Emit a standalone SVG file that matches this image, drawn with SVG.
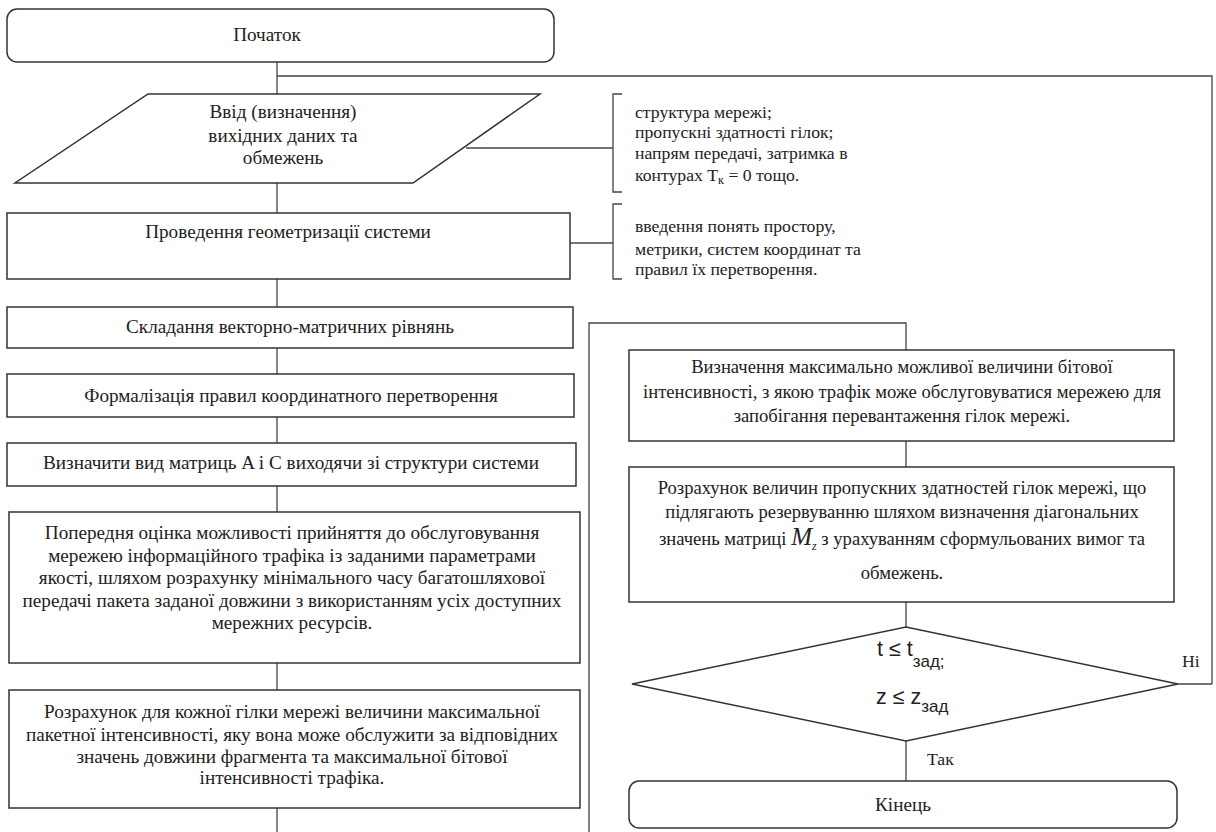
<svg xmlns="http://www.w3.org/2000/svg" width="1216" height="832" viewBox="0 0 1216 832">
<style>
.box{fill:#fff;stroke:#333;stroke-width:1.5}
.ln{fill:none;stroke:#444;stroke-width:1.3}
text{font-family:"Liberation Serif","Times New Roman",serif;fill:#222}
.t{font-size:19.2px;text-anchor:middle}
.r{font-size:18.6px;text-anchor:middle}
.a{font-size:17.7px}
.s{font-family:"Liberation Sans",Arial,sans-serif;font-size:21.5px}
.sub{font-size:17px}
</style>
<rect width="1216" height="832" fill="#fff"/>
<g id="connectors">
<path class="ln" d="M277 62V94"/>
<path class="ln" d="M277 76H1212V684"/>
<path class="ln" d="M466 148H613"/>
<path class="ln" d="M277 183V213"/>
<path class="ln" d="M570 243H613"/>
<path class="ln" d="M277 279V307"/>
<path class="ln" d="M277 348V374"/>
<path class="ln" d="M277 417V443"/>
<path class="ln" d="M277 486V512"/>
<path class="ln" d="M277 663V690"/>
<path class="ln" d="M277 808V832"/>
<path class="ln" d="M589 832V323H906V350"/>
<path class="ln" d="M906 441V467"/>
<path class="ln" d="M906 602V627"/>
<path class="ln" d="M1178 684H1212"/>
<path class="ln" d="M906 741V781"/>
</g>
<g id="start">
<rect class="box" x="7" y="9" width="547" height="53" rx="10"/>
<text class="t" x="267" y="41">Початок</text>
</g>
<g id="input">
<polygon class="box" points="148,94 540,94 413,183 15,183"/>
<text class="t" x="283" y="118">Ввід (визначення)</text>
<text class="t" x="283" y="142">вихідних даних та</text>
<text class="t" x="283" y="164">обмежень</text>
</g>
<g id="note1">
<path class="ln" d="M622 94H613V192H622"/>
<text class="a" x="635" y="118">структура мережі;</text>
<text class="a" x="635" y="138">пропускні здатності гілок;</text>
<text class="a" x="635" y="159">напрям передачі, затримка в</text>
<text class="a" x="635" y="181">контурах T<tspan font-size="12" dy="3">к</tspan><tspan dy="-3"> = 0 тощо.</tspan></text>
</g>
<g id="geom">
<rect class="box" x="7" y="213" width="563" height="66"/>
<text class="t" x="288" y="238">Проведення геометризації системи</text>
</g>
<g id="note2">
<path class="ln" d="M622 204H613V279H622"/>
<text class="a" x="635" y="232">введення понять простору,</text>
<text class="a" x="635" y="255">метрики, систем координат та</text>
<text class="a" x="635" y="275">правил їх перетворення.</text>
</g>
<g id="eq">
<rect class="box" x="7" y="307" width="566" height="41"/>
<text class="t" x="290" y="333">Складання векторно-матричних рівнянь</text>
</g>
<g id="formal">
<rect class="box" x="7" y="374" width="567" height="43"/>
<text class="t" x="291" y="402">Формалізація правил координатного перетворення</text>
</g>
<g id="matrix">
<rect class="box" x="7" y="443" width="569" height="43"/>
<text class="t" x="291" y="469">Визначити вид матриць A і C виходячи зі структури системи</text>
</g>
<g id="estimate">
<rect class="box" x="9" y="512" width="571" height="151"/>
<text class="t" x="292" y="539">Попередня оцінка можливості прийняття до обслуговування</text>
<text class="t" x="292" y="561.5">мережею інформаційного трафіка із заданими параметрами</text>
<text class="t" x="292" y="584">якості, шляхом розрахунку мінімального часу багатошляхової</text>
<text class="t" x="292" y="606.5">передачі пакета заданої довжини з використанням усіх доступних</text>
<text class="t" x="292" y="629">мережних ресурсів.</text>
</g>
<g id="packet">
<rect class="box" x="9" y="690" width="571" height="118"/>
<text class="t" x="292" y="718">Розрахунок для кожної гілки мережі величини максимальної</text>
<text class="t" x="292" y="741">пакетної інтенсивності, яку вона може обслужити за відповідних</text>
<text class="t" x="292" y="763">значень довжини фрагмента та максимальної бітової</text>
<text class="t" x="292" y="784">інтенсивності трафіка.</text>
</g>
<g id="bitrate">
<rect class="box" x="629" y="350" width="545" height="91"/>
<text class="r" x="902" y="373">Визначення максимально можливої величини бітової</text>
<text class="r" x="902" y="397.5">інтенсивності, з якою трафік може обслуговуватися мережею для</text>
<text class="r" x="902" y="422">запобігання перевантаження гілок мережі.</text>
</g>
<g id="capacity">
<rect class="box" x="629" y="467" width="545" height="135"/>
<text class="r" x="902" y="494">Розрахунок величин пропускних здатностей гілок мережі, що</text>
<text class="r" x="902" y="518">підлягають резервуванню шляхом визначення діагональних</text>
<text class="r" x="902" y="545">значень матриці <tspan font-style="italic" font-size="25">M</tspan><tspan font-style="italic" font-size="12" dy="5">z</tspan><tspan dy="-5"> з урахуванням сформульованих вимог та</tspan></text>
<text class="r" x="902" y="579">обмежень.</text>
</g>
<g id="decision">
<polygon class="box" points="906,627 1178,684 906,741 632,684"/>
<text class="s" x="877" y="656">t ≤ t<tspan class="sub" dy="11">зад;</tspan></text>
<text class="s" x="876" y="704">z ≤ z<tspan class="sub" dy="8">зад</tspan></text>
<text class="a" x="1182" y="667">Ні</text>
<text class="a" x="927" y="765">Так</text>
</g>
<g id="end">
<rect class="box" x="629" y="781" width="548" height="47" rx="10"/>
<text class="t" x="903" y="811">Кінець</text>
</g>
</svg>
